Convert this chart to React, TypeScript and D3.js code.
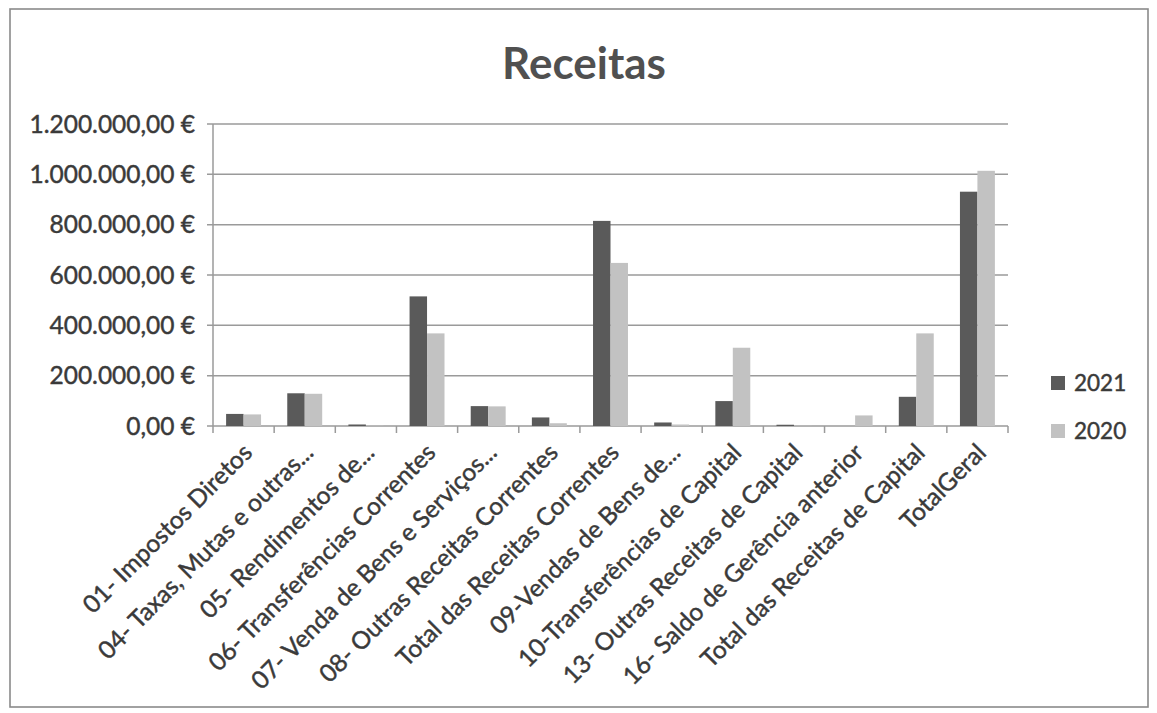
import { scaleBand, scaleLinear } from "d3";

const categories = [
  "01- Impostos Diretos",
  "04- Taxas, Mutas e outras...",
  "05- Rendimentos de...",
  "06- Transferências Correntes",
  "07- Venda de Bens e Serviços...",
  "08- Outras Receitas Correntes",
  "Total das Receitas Correntes",
  "09-Vendas de Bens de...",
  "10-Transferências de Capital",
  "13- Outras Receitas de Capital",
  "16- Saldo de Gerência anterior",
  "Total das Receitas de Capital",
  "TotalGeral",
];

const values2021 = [48000, 130000, 6000, 515000, 79000, 34000, 815000, 14000, 99000, 5000, 0, 116000, 931000];
const values2020 = [46000, 128000, 1500, 368000, 78000, 11000, 648000, 6000, 311000, 1000, 42000, 368000, 1014000];

const seriesNames = ["2021", "2020"];
const yTickValues = [0, 200000, 400000, 600000, 800000, 1000000, 1200000];
const yTickLabels = [
  "0,00 €",
  "200.000,00 €",
  "400.000,00 €",
  "600.000,00 €",
  "800.000,00 €",
  "1.000.000,00 €",
  "1.200.000,00 €",
];

const colors: Record<string, string> = { "2021": "#5a5a5a", "2020": "#c2c2c2" };
const font = "Lato, 'Open Sans', sans-serif";
const ink = "#3a3a3a";
// scanned text looks heavier than plain regular weight
const textStyle = { fontFamily: font, fill: ink, stroke: ink, strokeWidth: 0.45 };

export default function App() {
  const width = 1157;
  const height = 713;
  const plot = { left: 213, right: 1008, top: 124, bottom: 426 };

  const x = scaleBand<string>().domain(categories).range([plot.left, plot.right]).paddingInner(0).paddingOuter(0);
  const xSub = scaleBand<string>()
    .domain(seriesNames)
    .range([0, x.bandwidth()])
    .paddingInner(0)
    .paddingOuter(0.75);
  const y = scaleLinear().domain([0, 1200000]).range([plot.bottom, plot.top]);

  const rows = categories.map((c, i) => ({ c, "2021": values2021[i], "2020": values2020[i] }));
  const boundaries = [...categories.map((c) => x(c) ?? 0), plot.right];

  return (
    <svg
      width={width}
      height={height}
      viewBox={`0 0 ${width} ${height}`}
      style={{ position: "absolute", left: 0, top: 0, background: "#fff" }}
    >
      <rect x={0} y={0} width={width} height={height} fill="#fff" />
      <rect x={10} y={9} width={1138} height={698} fill="none" stroke="#8a8a8a" strokeWidth={1.6} />

      <text x={584} y={79} textAnchor="middle" fontFamily={font} fontWeight={700} fontSize={44} fill="#505050">
        Receitas
      </text>

      {yTickValues.map((t, i) => (
        <g key={t}>
          <line x1={plot.left - 6} x2={plot.right} y1={y(t)} y2={y(t)} stroke="#9a9a9a" strokeWidth={1.5} />
          <text x={195} y={y(t)} dy="0.36em" textAnchor="end" fontSize={24.5} {...textStyle}>
            {yTickLabels[i]}
          </text>
        </g>
      ))}

      <line x1={plot.left} x2={plot.left} y1={plot.top} y2={plot.bottom} stroke="#9a9a9a" strokeWidth={1.5} />

      {boundaries.map((bx, i) => (
        <line key={i} x1={bx} x2={bx} y1={plot.bottom} y2={plot.bottom + 7} stroke="#9a9a9a" strokeWidth={1.5} />
      ))}

      {rows.map((row) => (
        <g key={row.c} transform={`translate(${x(row.c)},0)`}>
          {seriesNames.map((s) => {
            const v = row[s as "2021" | "2020"];
            return (
              <rect
                key={s}
                x={xSub(s)}
                y={y(v)}
                width={xSub.bandwidth()}
                height={plot.bottom - y(v)}
                fill={colors[s]}
              />
            );
          })}
        </g>
      ))}

      {categories.map((c) => {
        const cx = (x(c) ?? 0) + x.bandwidth() / 2;
        return (
          <text
            key={c}
            transform={`translate(${cx + 4},${plot.bottom + 22}) rotate(-45)`}
            dy="0.35em"
            textAnchor="end"
            fontSize={24.5}
            {...textStyle}
          >
            {c}
          </text>
        );
      })}

      {seriesNames.map((s, i) => (
        <g key={s} transform={`translate(1051,${383 + i * 48})`}>
          <rect x={0} y={-7} width={14} height={14} fill={colors[s]} />
          <text x={23} y={0} dy="0.36em" fontSize={22.5} {...textStyle}>
            {s}
          </text>
        </g>
      ))}
    </svg>
  );
}
